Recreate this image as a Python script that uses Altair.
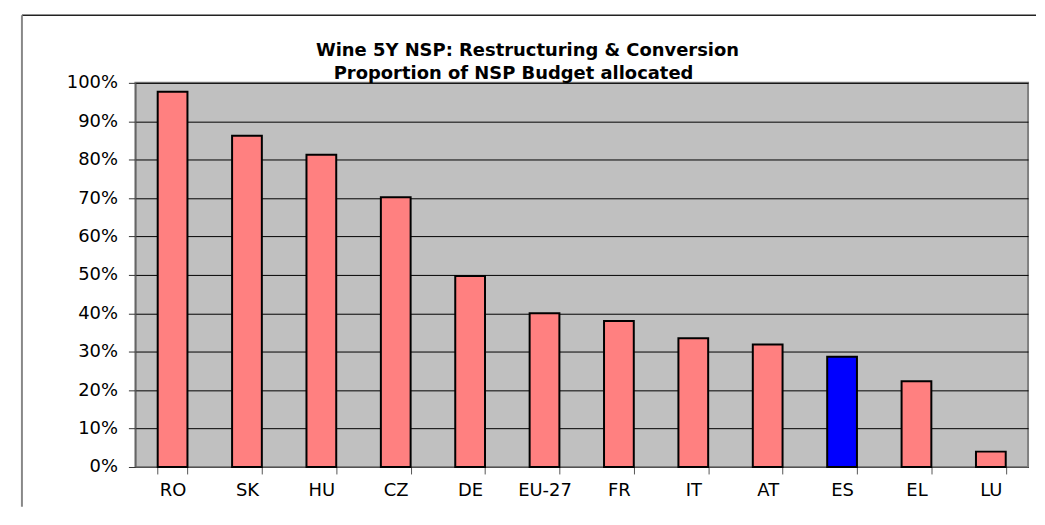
import altair as alt
import pandas as pd

countries = ["RO", "SK", "HU", "CZ", "DE", "EU-27", "FR", "IT", "AT", "ES", "EL", "LU"]
shares = [0.977, 0.862, 0.813, 0.702, 0.497, 0.400, 0.380, 0.335, 0.319, 0.287, 0.223, 0.040]
highlight = ["no", "no", "no", "no", "no", "no", "no", "no", "no", "yes", "no", "no"]
title_lines = ["Wine 5Y NSP: Restructuring & Conversion", "Proportion of NSP Budget allocated"]

df = pd.DataFrame({"country": countries, "share": shares, "hl": highlight})

FONT = "DejaVu Sans"

bars = alt.Chart(df).mark_bar(stroke="black", strokeWidth=2).encode(
    x=alt.X("country:N", sort=countries, title=None,
            scale=alt.Scale(paddingInner=0.6, paddingOuter=0.3),
            axis=alt.Axis(labelAngle=0, tickBand="extent", tickSize=7, labelPadding=8,
                          labelFontSize=18, labelFont=FONT, labelColor="black",
                          domainColor="#555555", tickColor="#555555", grid=False)),
    y=alt.Y("share:Q", title=None,
            scale=alt.Scale(domain=[0, 1]),
            axis=alt.Axis(format="%", values=[i / 10 for i in range(11)], tickSize=7,
                          labelPadding=11, labelFontSize=18, labelFont=FONT, labelColor="black",
                          domainColor="#555555", tickColor="#333333",
                          grid=True, gridColor="black", gridWidth=1)),
    color=alt.Color("hl:N", scale=alt.Scale(domain=["no", "yes"], range=["#FF8080", "#0000FF"]),
                    legend=None),
)

frame_df = pd.DataFrame({"a": [0]})
top_line = alt.Chart(frame_df).mark_rule(color="#222222", strokeWidth=1.5).encode(
    x=alt.value(-114), x2=alt.value(905), y=alt.value(-68))
left_line = alt.Chart(frame_df).mark_rule(color="#888888", strokeWidth=2).encode(
    x=alt.value(-114), y=alt.value(-68), y2=alt.value(426))

title1 = alt.Chart(frame_df).mark_text(
    text=title_lines[0], font=FONT, fontSize=18, fontWeight="bold", color="black",
    align="center", baseline="alphabetic").encode(x=alt.value(394), y=alt.value(-27))
title2 = alt.Chart(frame_df).mark_text(
    text=title_lines[1], font=FONT, fontSize=18, fontWeight="bold", color="black",
    align="center", baseline="alphabetic").encode(x=alt.value(380), y=alt.value(-4))

chart = alt.layer(bars, top_line, left_line, title1, title2).properties(
    width=897, height=386,
    padding={"left": 13, "top": 5, "right": 0, "bottom": 0},
).configure_view(fill="#C0C0C0", stroke="#808080", strokeWidth=2)

chart.save("out.html", embed_options={"renderer": "svg", "actions": False})
